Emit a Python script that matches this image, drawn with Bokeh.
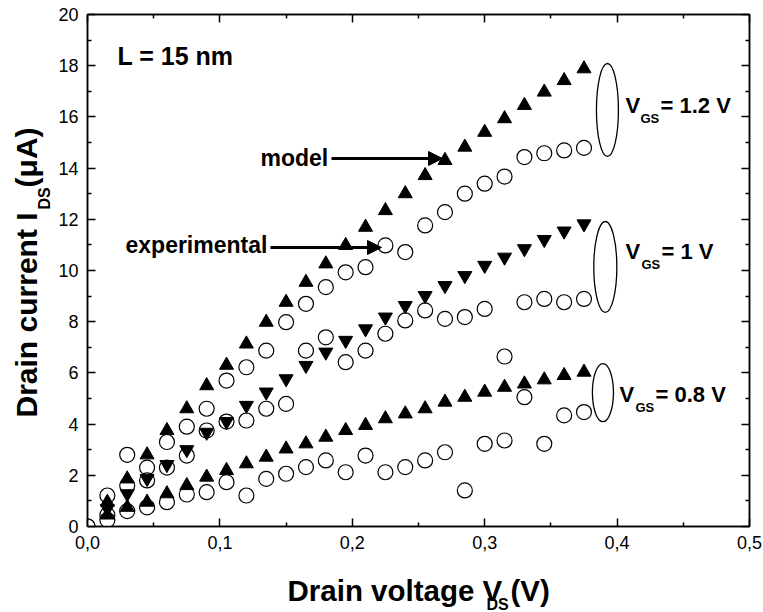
import math
from bokeh.plotting import figure
from bokeh.models import (LinearAxis, FixedTicker, CustomJSTickFormatter, Label,
                          Arrow, NormalHead, ColumnDataSource)
from bokeh.embed import file_html
from bokeh.resources import INLINE

# ---------------- data ----------------
vds = [0.015, 0.03, 0.045, 0.06, 0.075, 0.09, 0.105, 0.12, 0.135, 0.15, 0.165, 0.18, 0.195,
       0.21, 0.225, 0.24, 0.255, 0.27, 0.285, 0.30, 0.315, 0.33, 0.345, 0.36, 0.375]
vds_exp = [0.0] + vds

model_12 = [0.95, 1.86, 2.8, 3.75, 4.6, 5.5, 6.3, 7.13, 7.98, 8.76, 9.54, 10.26, 10.98,
            11.69, 12.34, 13.0, 13.71, 14.3, 14.82, 15.4, 15.93, 16.45, 16.97, 17.42, 17.88]
exp_12 = [0.0, 1.21, 2.8, 2.3, 3.3, 3.9, 4.6, 5.7, 6.22, 6.87, 7.98, 8.7, 9.35, 9.93,
          10.13, 10.98, 10.72, 11.76, 12.28, 13.0, 13.39, 13.67, 14.43, 14.58, 14.69, 14.79]

model_10 = [0.7, 1.28, 1.87, 2.42, 3.0, 3.68, 4.1, 4.73, 5.25, 5.77, 6.29, 6.81, 7.27,
            7.72, 8.18, 8.63, 9.02, 9.41, 9.8, 10.2, 10.52, 10.85, 11.21, 11.54, 11.82]
exp_10 = [0.0, 0.45, 1.6, 1.8, 2.3, 2.77, 3.75, 4.1, 4.14, 4.6, 4.79, 6.87, 7.39, 6.42,
          6.87, 7.53, 8.05, 8.44, 8.11, 8.18, 8.5, 6.64, 8.76, 8.89, 8.76, 8.89]

model_08 = [0.45, 0.75, 0.95, 1.28, 1.6, 1.93, 2.19, 2.45, 2.71, 3.03, 3.23, 3.49, 3.75,
            3.95, 4.21, 4.4, 4.6, 4.86, 5.05, 5.25, 5.44, 5.57, 5.73, 5.9, 6.03]
exp_08 = [0.0, 0.25, 0.6, 0.75, 0.95, 1.25, 1.34, 1.73, 1.21, 1.86, 2.06, 2.32, 2.58, 2.12,
          2.77, 2.12, 2.32, 2.58, 2.9, 1.41, 3.23, 3.36, 5.05, 3.23, 4.34, 4.47]

x_ticks = [0.0, 0.1, 0.2, 0.3, 0.4, 0.5]
x_minor = [0.05, 0.15, 0.25, 0.35, 0.45]
y_ticks = [0, 2, 4, 6, 8, 10, 12, 14, 16, 18, 20]
y_minor = [1, 3, 5, 7, 9, 11, 13, 15, 17, 19]

# ellipse groups: (center x, center y, width, height) in data units
ell_x = [0.3927, 0.3911, 0.3893]
ell_y = [16.27, 10.14, 5.23]
ell_w = [0.0166, 0.0174, 0.0159]
ell_h = [3.63, 3.55, 2.27]

FONT = "'Liberation Sans', Arial, sans-serif"
BASE_K = 0.4  # empirical baseline correction (fraction of font size)

# frame geometry (reference pixels) -> data converters
FX0, FX1, FY0, FY1 = 87.0, 749.0, 526.0, 14.0
def px2x(px):
    return (px - FX0) / (FX1 - FX0) * 0.5
def py2y(py):
    return (FY0 - py) / (FY0 - FY1) * 20.0

p = figure(width=763, height=612, x_range=(0, 0.5), y_range=(0, 20),
           output_backend="svg", toolbar_location=None,
           min_border_left=87, min_border_right=14, min_border_top=14, min_border_bottom=86)
p.grid.visible = False
p.outline_line_color = "black"
p.outline_line_width = 1.5
p.background_fill_color = "white"
p.border_fill_color = "white"

xt = FixedTicker(ticks=x_ticks, minor_ticks=x_minor)
yt = FixedTicker(ticks=y_ticks, minor_ticks=y_minor)
comma_fmt = CustomJSTickFormatter(code="return tick.toFixed(1).replace('.', ',');")
int_fmt = CustomJSTickFormatter(code="return tick.toFixed(0);")
blank_fmt = CustomJSTickFormatter(code="return '';")

def style_axis(ax, labels=True):
    ax.axis_line_color = "black"
    ax.axis_line_width = 1.5
    ax.major_tick_line_color = "black"
    ax.major_tick_line_width = 1.5
    ax.minor_tick_line_color = "black"
    ax.minor_tick_line_width = 1.5
    ax.major_tick_in = 8
    ax.major_tick_out = 0
    ax.minor_tick_in = 4
    ax.minor_tick_out = 0
    ax.major_label_text_font = FONT
    ax.major_label_text_color = "black"
    if labels:
        ax.major_label_text_font_size = "18px"
        ax.major_label_standoff = 9
    else:
        ax.major_label_text_font_size = "0px"
        ax.major_label_standoff = 0

p.xaxis.ticker = xt
p.xaxis.formatter = comma_fmt
p.yaxis.ticker = yt
p.yaxis.formatter = int_fmt
style_axis(p.xaxis[0])
style_axis(p.yaxis[0])

top = LinearAxis(ticker=FixedTicker(ticks=x_ticks, minor_ticks=x_minor), formatter=blank_fmt)
right = LinearAxis(ticker=FixedTicker(ticks=y_ticks, minor_ticks=y_minor), formatter=blank_fmt)
style_axis(top, labels=False)
style_axis(right, labels=False)
p.add_layout(top, "above")
p.add_layout(right, "right")

# experimental circles (white-filled), then model triangles
for ys in (exp_12, exp_10, exp_08):
    src = ColumnDataSource(dict(x=vds_exp, y=ys))
    p.scatter("x", "y", source=src, marker="circle", size=15, fill_color="white",
              line_color="black", line_width=1.2)

p.scatter(vds, model_12, marker="triangle", size=14, fill_color="black", line_color="black")
p.scatter(vds, model_10, marker="inverted_triangle", size=14, fill_color="black", line_color="black")
p.scatter(vds, model_08, marker="triangle", size=14, fill_color="black", line_color="black")

# ellipses marking the VGS groups
p.ellipse(x=ell_x, y=ell_y, width=ell_w, height=ell_h, fill_color=None,
          line_color="black", line_width=1.3)

def lab(text, px, py, size, align="left", bold=True, rotated=False, place="center"):
    """px, py: wanted baseline start point in reference pixels."""
    if rotated:
        px = px - BASE_K * size
    else:
        py = py - BASE_K * size
    p.add_layout(Label(x=px2x(px), y=py2y(py), text=text, text_font=FONT,
                       text_font_size=f"{size}px", text_font_style="bold" if bold else "normal",
                       text_align=align, text_baseline="alphabetic", text_color="black",
                       angle=math.pi / 2 if rotated else 0.0), place)

# annotations inside the frame
lab("L = 15 nm", 117, 65, 25)
lab("model", 260, 167, 23)
lab("experimental", 125, 254, 23)

head1 = NormalHead(size=14, fill_color="black", line_color="black")
head2 = NormalHead(size=14, fill_color="black", line_color="black")
p.add_layout(Arrow(end=head1, x_start=px2x(331), y_start=py2y(158), x_end=px2x(442), y_end=py2y(158),
                   line_width=3, line_color="black"))
p.add_layout(Arrow(end=head2, x_start=px2x(270), y_start=py2y(247), x_end=px2x(381), y_end=py2y(247),
                   line_width=3, line_color="black"))

# VGS labels
for vx, base, gsx, rest, restx in [(625, 114, 640, "= 1.2 V", 660),
                                   (625, 260, 641, "= 1 V", 661),
                                   (619, 403, 635, "= 0.8 V", 655)]:
    lab("V", vx, base, 22)
    lab("GS", gsx, base + 9, 13)
    lab(rest, restx, base, 22)

# x axis title (side panel so it is not clipped by the frame)
lab("Drain voltage V (V)", 287, 602, 29.5, place="below")
lab("DS", 486, 610, 16, place="below")

# y axis title (rotated)
lab("Drain current I\u00a0\u00a0\u00a0(\u03bcA)", 38, 417, 30, rotated=True, place="left")
lab("DS", 50, 209, 16, rotated=True, place="left")

open("out.html", "w").write(file_html(p, INLINE))
